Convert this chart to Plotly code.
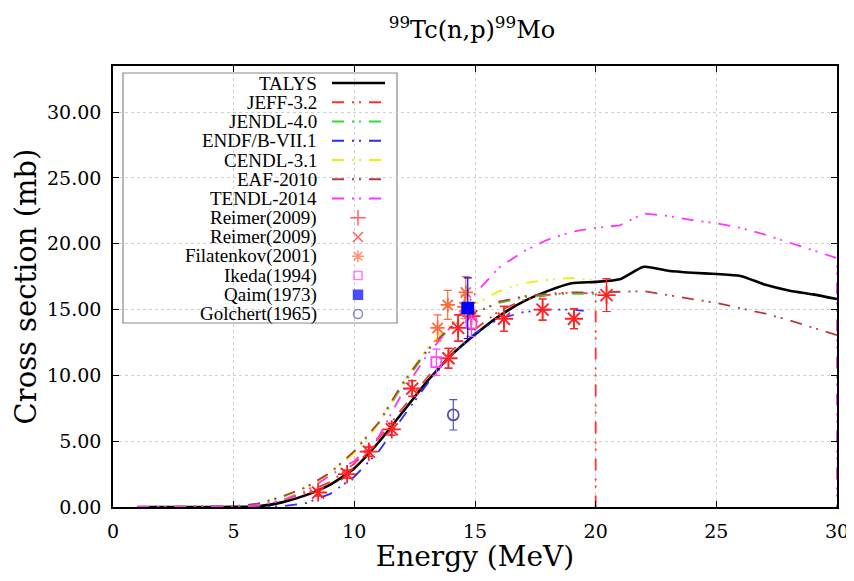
import plotly.graph_objects as go

FONT = "DejaVu Serif"
LEG_FONT = "Liberation Serif"

# ---------------- evaluated / calculated excitation functions (MeV, mb) ----------------
talys_e = [1, 2, 3, 4, 5, 6, 7, 8, 9, 10, 11, 12, 13, 14, 15, 16, 17, 18, 19, 20,
           21, 22, 23, 24, 25, 26, 27, 28, 29, 30]
talys_xs = [0, 0, 0, 0, 0.01, 0.05, 0.35, 0.9, 1.7, 2.95, 4.9, 7.2, 9.5, 11.5, 13.1,
            14.5, 15.6, 16.4, 17.0, 17.1, 17.3, 18.25, 17.95, 17.8, 17.7, 17.55,
            16.9, 16.45, 16.15, 15.8]

jeff_e = [1, 2, 3, 4, 5, 6, 7, 8, 9, 10, 11, 12, 13, 14, 15, 16, 17, 18, 19, 20, 20]
jeff_xs = [0, 0, 0, 0, 0.03, 0.1, 0.5, 1.1, 1.9, 3.3, 5.2, 7.5, 9.8, 11.8, 13.5,
           14.9, 15.7, 16.1, 16.3, 16.2, 0]

jendl_e = [1, 2, 3, 4, 5, 6, 7, 8, 9, 10, 11, 12, 13, 14, 15, 16, 17, 18, 19, 20]
jendl_xs = [0, 0, 0, 0.01, 0.05, 0.25, 0.75, 1.5, 2.6, 4.2, 6.3, 9.2, 11.8, 13.6,
            14.8, 15.5, 15.9, 16.1, 16.2, 16.2]

endf_e = [1, 2, 3, 4, 5, 6, 7, 8, 9, 10, 11, 12, 13, 14, 15, 16, 17, 18, 19, 19.5]
endf_xs = [0, 0, 0, 0, 0, 0.01, 0.05, 0.3, 1.0, 2.3, 4.2, 6.8, 9.3, 11.5, 13.2,
           14.3, 14.8, 15.0, 15.0, 14.9]

cendl_e = [1, 2, 3, 4, 5, 6, 7, 8, 9, 10, 11, 12, 13, 14, 15, 16, 17, 18, 19, 20]
cendl_xs = [0, 0, 0, 0, 0.03, 0.15, 0.55, 1.3, 2.5, 4.1, 6.3, 9.4, 12.0, 13.9, 15.4,
            16.4, 17.0, 17.25, 17.4, 17.2]

eaf_e = [1, 2, 3, 4, 5, 6, 7, 8, 9, 10, 11, 12, 13, 14, 15, 16, 17, 18, 19, 20,
         21, 22, 23, 24, 25, 26, 27, 28, 29, 30]
eaf_xs = [0, 0, 0, 0.01, 0.05, 0.25, 0.8, 1.5, 2.6, 4.25, 6.4, 9.4, 11.9, 13.7, 14.7,
          15.6, 16.0, 16.2, 16.3, 16.3, 16.35, 16.4, 16.1, 15.8, 15.5, 15.1, 14.7,
          14.2, 13.6, 13.05]

tendl_e = [1, 2, 3, 4, 5, 6, 7, 8, 9, 10, 11, 12, 13, 14, 15, 16, 17, 18, 19, 20,
           21, 22, 23, 24, 25, 26, 27, 28, 29, 30, 30]
tendl_xs = [0, 0, 0, 0, 0.03, 0.12, 0.5, 1.2, 2.4, 3.5, 5.3, 8.7, 11.5, 13.7, 16.2,
            18.2, 19.4, 20.3, 20.9, 21.2, 21.4, 22.3, 22.1, 21.8, 21.55, 21.2, 20.7,
            20.1, 19.5, 18.9, 0]

# ---------------- experimental data (MeV, mb, mb) ----------------
reimer_e = [8.5, 9.7, 10.6, 11.55, 12.4, 13.9, 14.3, 14.85, 16.2, 17.8, 19.1, 20.45]
reimer_xs = [1.1, 2.5, 4.2, 5.9, 9.0, 11.3, 13.6, 14.5, 14.3, 15.0, 14.3, 16.1]
reimer_err = [0.25, 0.3, 0.35, 0.45, 0.6, 0.75, 1.0, 1.0, 0.95, 0.8, 0.75, 1.25]

filat_e = [13.45, 13.87, 14.56, 14.62]
filat_xs = [13.6, 15.35, 15.2, 16.3]
filat_err = [1.0, 1.1, 0.9, 1.2]

ikeda_e = [13.4, 14.85]
ikeda_xs = [11.0, 13.95]
ikeda_err = [1.0, 1.0]

qaim_e = [14.7]
qaim_xs = [15.1]
qaim_err = [2.3]

golchert_e = [14.1]
golchert_xs = [7.0]
golchert_err = [1.15]

DASH = "12px,8px,2px,5px,2px,8px"

lines = [
    ("TALYS", talys_e, talys_xs, "#000000", "solid", 2.6, "spline"),
    ("JEFF-3.2", jeff_e, jeff_xs, "#ff3030", DASH, 1.8, "linear"),
    ("JENDL-4.0", jendl_e, jendl_xs, "#33dd33", DASH, 1.8, "linear"),
    ("ENDF/B-VII.1", endf_e, endf_xs, "#2b2bff", DASH, 1.8, "linear"),
    ("CENDL-3.1", cendl_e, cendl_xs, "#f0f000", DASH, 1.8, "linear"),
    ("EAF-2010", eaf_e, eaf_xs, "#b83a3a", DASH, 1.8, "linear"),
    ("TENDL-2014", tendl_e, tendl_xs, "#ff33ff", DASH, 1.8, "linear"),
]

points = [
    ("Reimer(2009)", reimer_e, reimer_xs, reimer_err, "#ff2020", "cross-thin-open", 13),
    ("Reimer(2009)", reimer_e, reimer_xs, reimer_err, "#ff2020", "x-thin-open", 12),
    ("Filatenkov(2001)", filat_e, filat_xs, filat_err, "#ff6a3a", "asterisk-open", 12),
    ("Ikeda(1994)", ikeda_e, ikeda_xs, ikeda_err, "#ff44ff", "square-open", 10),
    ("Qaim(1973)", qaim_e, qaim_xs, qaim_err, "#0000ff", "square", 11),
    ("Golchert(1965)", golchert_e, golchert_xs, golchert_err, "#5252b8", "circle-open", 11),
]

fig = go.Figure()

for name, e, xs, col, dash, w, shape in lines:
    fig.add_trace(go.Scatter(x=e, y=xs, mode="lines", name=name, showlegend=False,
                             line=dict(color=col, dash=dash, width=w, shape=shape,
                                       smoothing=0.6 if shape == "spline" else None)))

for name, e, xs, err, col, sym, size in points:
    fig.add_trace(go.Scatter(
        x=e, y=xs, mode="markers", name=name, showlegend=False,
        marker=dict(symbol=sym, size=size, color=col, line=dict(color=col, width=1.8)),
        error_y=dict(type="data", array=err, visible=True, color=col,
                     thickness=1.2, width=4)))

# ---------------- page geometry (the page body adds an 8px margin) ----------------
BODY = 8
FIG_W, FIG_H = 854 - BODY, 581 - 2 * BODY
# plot area edges in page pixels
PLOT_L, PLOT_R, PLOT_T, PLOT_B = 113, 837, 66, 507
W_PLOT, H_PLOT = PLOT_R - PLOT_L, PLOT_B - PLOT_T


def px_x(p):
    return (p - PLOT_L) / W_PLOT


def px_y(p):
    return (PLOT_B - p) / H_PLOT


# ---------------- hand-made legend (text right, sample right of it as in the original) ----------------
shapes = [dict(type="rect", xref="paper", yref="paper", layer="between",
               x0=px_x(123), x1=px_x(397), y0=px_y(323), y1=px_y(73),
               fillcolor="white", line=dict(color="#8a8a8a", width=1.2))]
annotations = []
row0, step = 83, 19.25
text_x, samp_x0, samp_x1, mark_x = px_x(319), px_x(332), px_x(385), px_x(358)

entries = [(n, "line", (c, d, w)) for n, _, _, c, d, w, _ in lines] + \
          [(n, "mark", (c, s, z)) for n, _, _, _, c, s, z in points]

mk_x, mk_y, mk_sym, mk_col, mk_size = [], [], [], [], []
for i, (name, kind, sty) in enumerate(entries):
    yy = px_y(row0 + i * step)
    annotations.append(dict(x=text_x, y=yy, xref="paper", yref="paper", text=name,
                            showarrow=False, xanchor="right", yanchor="middle",
                            font=dict(family=LEG_FONT, size=19, color="black")))
    if kind == "line":
        c, d, w = sty
        shapes.append(dict(type="line", xref="paper", yref="paper", layer="above",
                           x0=samp_x0, x1=samp_x1, y0=yy, y1=yy,
                           line=dict(color=c, dash=d, width=w)))
    else:
        c, s, z = sty
        mk_x.append(mark_x)
        mk_y.append(yy)
        mk_sym.append(s)
        mk_col.append(c)
        mk_size.append(z - 2)

fig.add_trace(go.Scatter(x=mk_x, y=mk_y, xaxis="x2", yaxis="y2", mode="markers",
                         showlegend=False, hoverinfo="skip",
                         marker=dict(symbol=mk_sym, color=mk_col, size=mk_size,
                                     line=dict(color=mk_col, width=1.5))))

fig.update_layout(
    width=FIG_W, height=FIG_H,
    margin=dict(l=PLOT_L - BODY, r=FIG_W - (PLOT_R - BODY), t=PLOT_T - BODY,
                b=FIG_H - (PLOT_B - BODY), autoexpand=False),
    paper_bgcolor="white", plot_bgcolor="white",
    showlegend=False,
    title=dict(text="<sup>99</sup>Tc(n,p)<sup>99</sup>Mo", x=(472 - BODY) / FIG_W,
               xanchor="center", y=1 - (30 - BODY) / FIG_H, yanchor="middle",
               font=dict(family=FONT, size=24, color="black"), automargin=False),
    font=dict(family=FONT, color="black"),
    xaxis=dict(range=[0, 30], tickvals=[0, 5, 10, 15, 20, 25, 30], ticks="inside", ticklen=6,
               tickcolor="black", showline=True, linecolor="black", linewidth=1.5,
               mirror="ticks", showgrid=True, gridcolor="#d0d0d0", griddash="dot",
               gridwidth=1, zeroline=False, tickfont=dict(family=FONT, size=19),
               ticklabelstandoff=6, ticklabeloverflow="allow", automargin=False,
               title=dict(text="Energy (MeV)", font=dict(family=FONT, size=28), standoff=5)),
    yaxis=dict(range=[0, 33.5], tickvals=[0, 5, 10, 15, 20, 25, 30], tickformat=".2f",
               ticks="inside", ticklen=6, tickcolor="black", showline=True,
               linecolor="black", linewidth=1.5, mirror="ticks", showgrid=True,
               gridcolor="#d0d0d0", griddash="dot", gridwidth=1, zeroline=False,
               tickfont=dict(family=FONT, size=19), ticklabelstandoff=6,
               ticklabeloverflow="allow", automargin=False,
               title=dict(text="Cross section (mb)", font=dict(family=FONT, size=29), standoff=2)),
    xaxis2=dict(overlaying="x", range=[0, 1], visible=False),
    yaxis2=dict(overlaying="y", range=[0, 1], visible=False, anchor="x2"),
    shapes=shapes,
    annotations=annotations,
)

fig.write_html("out.html")
